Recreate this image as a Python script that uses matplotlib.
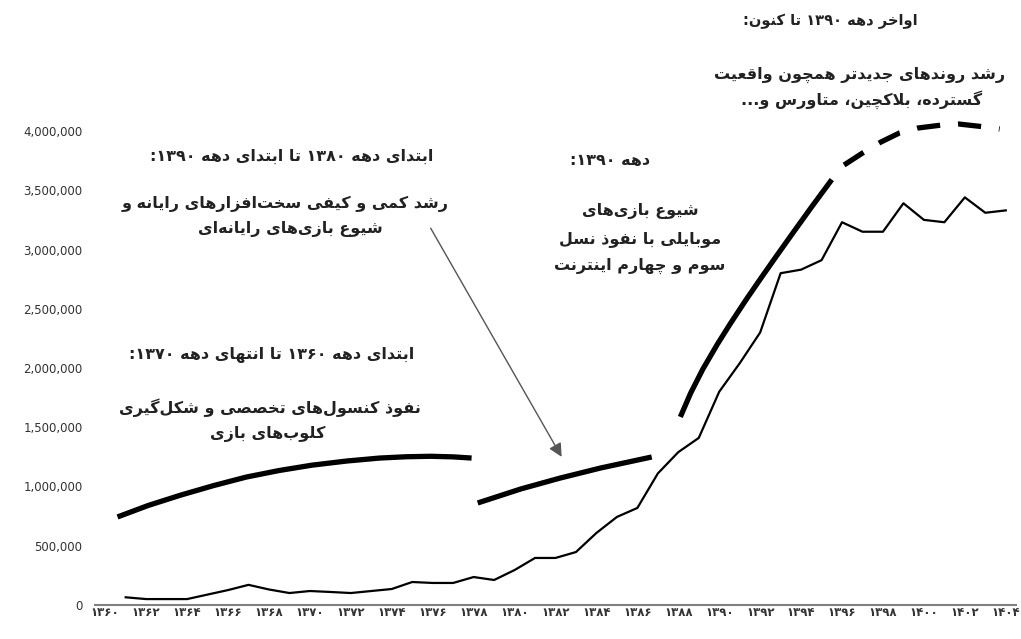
import matplotlib
matplotlib.use("Agg")
import matplotlib.pyplot as plt

# ---------------------------------------------
# data
# ---------------------------------------------
years = list(range(1361, 1405))
players = [65, 50, 50, 50, 88, 126, 170, 131, 101, 118,
           110, 101, 118, 135, 194, 186, 186, 236, 211, 295,
           397, 397, 447, 608, 743, 819, 1110, 1290, 1410, 1800,
           2040, 2300, 2800, 2830, 2910, 3230, 3150, 3150, 3390, 3250,
           3230, 3440, 3310, 3330]  # thousands

tick_years = list(range(1360, 1405, 2))
y_ticks = [0, 500000, 1000000, 1500000, 2000000, 2500000, 3000000, 3500000, 4000000]

# thick trend curves drawn over the chart (thousands)
trend1_x = [1360.6, 1362.1, 1363.7, 1365.3, 1366.9, 1368.5, 1370.1, 1371.8, 1373.4, 1374.7, 1375.9, 1377.0, 1377.9]
trend1_y = [743, 840, 928, 1008, 1080, 1135, 1180, 1215, 1240, 1251, 1255, 1250, 1240]
trend2_x = [1378.2, 1380.3, 1382.2, 1384.2, 1386.7]
trend2_y = [861, 979, 1070, 1156, 1249]
trend3_x = [1388.1, 1388.6, 1389.2, 1389.9, 1390.5, 1391.3, 1392.0, 1392.8, 1393.6, 1394.5, 1395.5]
trend3_y = [1587, 1787, 1991, 2198, 2363, 2573, 2749, 2946, 3140, 3356, 3590]
trend4_x = [1396.1, 1397.0, 1397.9, 1398.8, 1399.7, 1400.9, 1401.7, 1403.0, 1403.7]
trend4_y = [3713, 3814, 3907, 3983, 4025, 4051, 4059, 4034, 4017]

# ---------------------------------------------
# minimal persian shaping (matplotlib has no bidi / joining)
# ---------------------------------------------
FORMS = {
    "ا": (0xFE8D, 0xFE8E), "آ": (0xFE81, 0xFE82), "د": (0xFEA9, 0xFEAA),
    "ذ": (0xFEAB, 0xFEAC), "ر": (0xFEAD, 0xFEAE), "ز": (0xFEAF, 0xFEB0),
    "ژ": (0xFB8A, 0xFB8B), "و": (0xFEED, 0xFEEE),
    "ب": (0xFE8F, 0xFE90, 0xFE91, 0xFE92), "پ": (0xFB56, 0xFB57, 0xFB58, 0xFB59),
    "ت": (0xFE95, 0xFE96, 0xFE97, 0xFE98), "ث": (0xFE99, 0xFE9A, 0xFE9B, 0xFE9C),
    "ج": (0xFE9D, 0xFE9E, 0xFE9F, 0xFEA0), "چ": (0xFB7A, 0xFB7B, 0xFB7C, 0xFB7D),
    "ح": (0xFEA1, 0xFEA2, 0xFEA3, 0xFEA4), "خ": (0xFEA5, 0xFEA6, 0xFEA7, 0xFEA8),
    "س": (0xFEB1, 0xFEB2, 0xFEB3, 0xFEB4), "ش": (0xFEB5, 0xFEB6, 0xFEB7, 0xFEB8),
    "ص": (0xFEB9, 0xFEBA, 0xFEBB, 0xFEBC), "ض": (0xFEBD, 0xFEBE, 0xFEBF, 0xFEC0),
    "ط": (0xFEC1, 0xFEC2, 0xFEC3, 0xFEC4), "ظ": (0xFEC5, 0xFEC6, 0xFEC7, 0xFEC8),
    "ع": (0xFEC9, 0xFECA, 0xFECB, 0xFECC), "غ": (0xFECD, 0xFECE, 0xFECF, 0xFED0),
    "ف": (0xFED1, 0xFED2, 0xFED3, 0xFED4), "ق": (0xFED5, 0xFED6, 0xFED7, 0xFED8),
    "ک": (0xFB8E, 0xFB8F, 0xFB90, 0xFB91), "گ": (0xFB92, 0xFB93, 0xFB94, 0xFB95),
    "ل": (0xFEDD, 0xFEDE, 0xFEDF, 0xFEE0), "م": (0xFEE1, 0xFEE2, 0xFEE3, 0xFEE4),
    "ن": (0xFEE5, 0xFEE6, 0xFEE7, 0xFEE8), "ه": (0xFEE9, 0xFEEA, 0xFEEB, 0xFEEC),
    "ی": (0xFBFC, 0xFBFD, 0xFBFE, 0xFBFF), "ئ": (0xFE89, 0xFE8A, 0xFE8B, 0xFE8C),
}
DUAL = {k for k, v in FORMS.items() if len(v) == 4}
DIGITS = set("۰۱۲۳۴۵۶۷۸۹0123456789")


def fa(text):
    out = []
    i = 0
    n = len(text)
    while i < n:
        c = text[i]
        prev_join = i > 0 and text[i - 1] in DUAL
        if c == "ل" and i + 1 < n and text[i + 1] in "اآ":
            if text[i + 1] == "ا":
                out.append(chr(0xFEFC if prev_join else 0xFEFB))
            else:
                out.append(chr(0xFEF6 if prev_join else 0xFEF5))
            i += 2
            continue
        if c in FORMS:
            f = FORMS[c]
            next_join = c in DUAL and i + 1 < n and text[i + 1] in FORMS
            if len(f) == 2:
                out.append(chr(f[1] if prev_join else f[0]))
            elif prev_join and next_join:
                out.append(chr(f[3]))
            elif prev_join:
                out.append(chr(f[1]))
            elif next_join:
                out.append(chr(f[2]))
            else:
                out.append(chr(f[0]))
        elif c != "\u200c":
            out.append(c)
        i += 1
    # visual order: reverse, but keep digit runs left-to-right
    runs = []
    for ch in out:
        is_d = ch in DIGITS
        if runs and runs[-1][0] == is_d:
            runs[-1][1].append(ch)
        else:
            runs.append((is_d, [ch]))
    vis = ""
    for is_d, chs in reversed(runs):
        vis += "".join(chs) if is_d else "".join(reversed(chs))
    return vis


def fa_digits(n):
    return str(n).translate(str.maketrans("0123456789", "۰۱۲۳۴۵۶۷۸۹"))


# ---------------------------------------------
# figure
# ---------------------------------------------
W, H = 1021, 639
fig = plt.figure(figsize=(W / 100, H / 100), dpi=100)
ax = fig.add_axes([95 / W, 1 - 605 / H, 921 / W, (605 - 12.5) / H])

ax.plot(years, [v * 1000 for v in players], color="black", lw=1.6, zorder=3)

for tx, ty in [(trend1_x, trend1_y), (trend2_x, trend2_y), (trend3_x, trend3_y)]:
    ax.plot(tx, [v * 1000 for v in ty], color="black", lw=3.8,
            solid_capstyle="butt", solid_joinstyle="round", zorder=4)
ax.plot(trend4_x, [v * 1000 for v in trend4_y], color="black", lw=3.8,
        linestyle=(0, (4.4, 3.4)), dash_capstyle="butt", zorder=4)

# arrow
ax.annotate("", xy=(1382.3, 1250000), xytext=(1375.9, 3180000),
            arrowprops=dict(arrowstyle="-|>", color="#555555", lw=1.0,
                            mutation_scale=20, shrinkA=0, shrinkB=0))

ax.set_xlim(1359.5, 1404.5)
ax.set_ylim(0, 5000000)
ax.set_xticks(tick_years)
ax.set_xticklabels([fa_digits(y) for y in tick_years],
                   fontsize=8.5, color="#333333", fontweight="bold")
ax.set_yticks(y_ticks)
ax.set_yticklabels([f"{v:,}" for v in y_ticks], fontsize=8.5, color="#333333")
ax.tick_params(axis="both", length=0)
ax.tick_params(axis="y", pad=9)
ax.tick_params(axis="x", pad=1)

for s in ["top", "right", "left"]:
    ax.spines[s].set_visible(False)
ax.spines["bottom"].set_color("#808080")
ax.spines["bottom"].set_linewidth(1.5)


def label(x, y, s, size=11.5):
    fig.text(x / W, 1 - y / H, fa(s), ha="center", va="center",
             fontsize=size, color="#222222", family="DejaVu Sans",
             fontweight="bold")


label(830, 21, "اواخر دهه ۱۳۹۰ تا کنون:", size=10.5)
label(860, 75, "رشد روندهای جدیدتر همچون واقعیت")
label(862, 100, "گسترده، بلاکچین، متاورس و...")

label(292, 156, "ابتدای دهه ۱۳۸۰ تا ابتدای دهه ۱۳۹۰:")
label(285, 204, "رشد کمی و کیفی سخت‌افزارهای رایانه و")
label(290, 229, "شیوع بازی‌های رایانه‌ای")

label(610, 160, "دهه ۱۳۹۰:")
label(640, 211, "شیوع بازی‌های")
label(640, 239, "موبایلی با نفوذ نسل")
label(640, 266, "سوم و چهارم اینترنت")

label(272, 355, "ابتدای دهه ۱۳۶۰ تا انتهای دهه ۱۳۷۰:")
label(270, 408, "نفوذ کنسول‌های تخصصی و شکل‌گیری")
label(268, 434, "کلوب‌های بازی")

fig.savefig("out.png", dpi=100, facecolor="white")
